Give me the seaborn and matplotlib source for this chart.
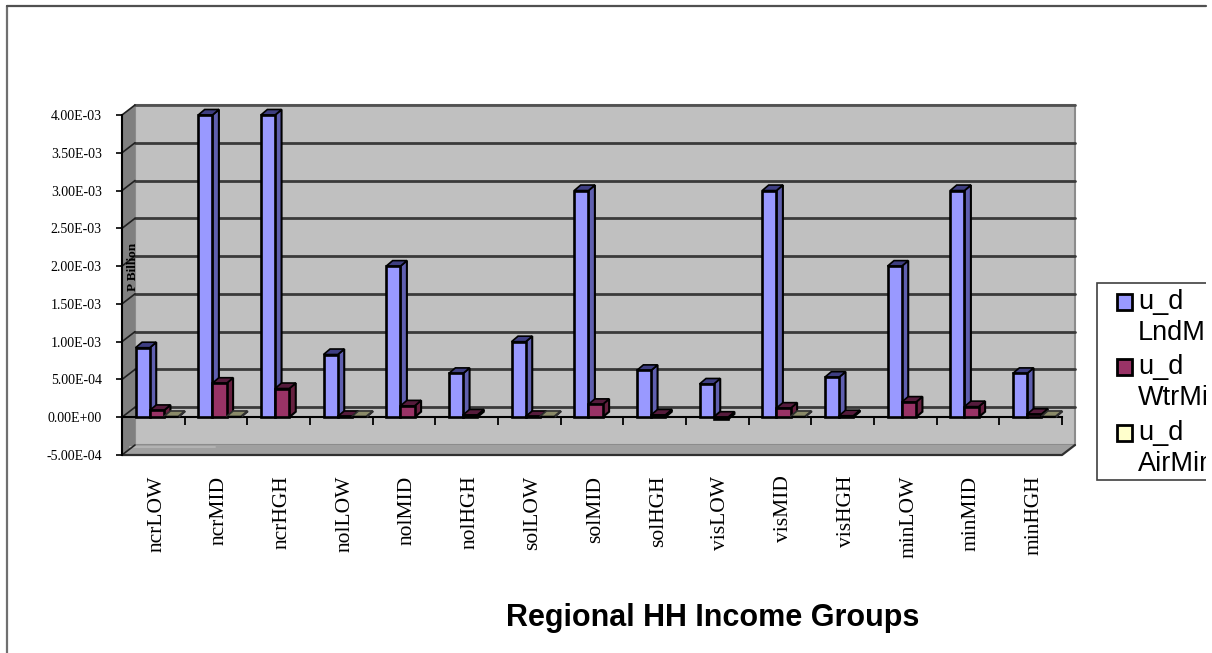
import numpy as np
import pandas as pd
import matplotlib
matplotlib.use('Agg')
import matplotlib.pyplot as plt
from matplotlib.patches import Polygon, Rectangle
from matplotlib.lines import Line2D
import seaborn as sns

sns.set_theme(style='white')

# chart data
groups = ['ncrLOW', 'ncrMID', 'ncrHGH', 'nolLOW', 'nolMID', 'nolHGH', 'solLOW', 'solMID',
          'solHGH', 'visLOW', 'visMID', 'visHGH', 'minLOW', 'minMID', 'minHGH']
lnd_min = [9.2e-4, 4.0e-3, 4.0e-3, 8.3e-4, 2.0e-3, 5.8e-4, 1.0e-3, 3.0e-3,
           6.2e-4, 4.4e-4, 3.0e-3, 5.3e-4, 2.0e-3, 3.0e-3, 5.8e-4]
wtr_min = [9e-5, 4.5e-4, 3.8e-4, 1e-5, 1.5e-4, 3e-5, 1e-5, 1.7e-4,
           3e-5, -3e-5, 1.2e-4, 2e-5, 2.0e-4, 1.4e-4, 4e-5]
air_min = [1e-5, 1e-5, np.nan, 1e-5, np.nan, np.nan, 1e-5, np.nan,
           np.nan, np.nan, 1e-5, np.nan, np.nan, np.nan, 1e-5]
series = ['u_d LndMin', 'u_d WtrMin', 'u_d AirMin']
y_ticks = [-5e-4, 0, 5e-4, 1e-3, 1.5e-3, 2e-3, 2.5e-3, 3e-3, 3.5e-3, 4e-3]
y_labels = ['-5.00E-04', '0.00E+00', '5.00E-04', '1.00E-03', '1.50E-03', '2.00E-03',
            '2.50E-03', '3.00E-03', '3.50E-03', '4.00E-03']

face_cols = ['#9999FF', '#993366', '#FFFFCC']
side_cols = ['#5F5FAF', '#66203F', '#8A8A68']
top_cols = ['#3E3E82', '#561B3C', '#8A8A68']
edge_cols = ['black', 'black', '#303030']

W, H = 1212, 653
fig = plt.figure(figsize=(W / 100, H / 100), dpi=100, facecolor='white')
ax = fig.add_axes([122 / W, (H - 455) / H, 940 / W, 340 / H])

df = pd.DataFrame({'group': groups * 3,
                   'series': np.repeat(series, 15),
                   'value': lnd_min + wtr_min + air_min})

sns.barplot(data=df, x='group', y='value', hue='series', palette=face_cols, saturation=1,
            width=0.68, gap=0, dodge=True, errorbar=None, legend=False,
            edgecolor='black', linewidth=1.9, ax=ax)

ax.set_xlim(-0.5, 14.5)
ax.set_ylim(-5e-4, 4e-3)
ax.patch.set_visible(False)
ax.set_axisbelow(False)

# px to data
px_x = 15 / 940
px_y = 4.5e-3 / 340
wall_dx, wall_dy = 13 * px_x, 10 * px_y
bar_dx, bar_dy = 6.5 * px_x, 5.5 * px_y
shift = 3.5 * px_x

x0, x1, y0, y1 = -0.5, 14.5, -5e-4, 4e-3

# fake 3d walls
ax.add_patch(Polygon([(x0 + wall_dx, y0 + wall_dy), (x1 + wall_dx, y0 + wall_dy),
                      (x1 + wall_dx, y1 + wall_dy), (x0 + wall_dx, y1 + wall_dy)],
                     fc='#C0C0C0', ec='#8C8C8C', lw=1.5, zorder=0.5, clip_on=False))
ax.add_patch(Polygon([(x0, y0), (x0 + wall_dx, y0 + wall_dy), (x0 + wall_dx, y1 + wall_dy), (x0, y1)],
                     fc='#808080', ec='none', zorder=0.6, clip_on=False))
ax.add_patch(Polygon([(x0, y0), (x1, y0), (x1 + wall_dx, y0 + wall_dy), (x0 + wall_dx, y0 + wall_dy)],
                     fc='#A0A0A0', ec='none', zorder=0.6, clip_on=False))
ax.plot([x0, x1, x1 + wall_dx], [y0, y0, y0 + wall_dy], color='#303030', lw=1.6, zorder=0.7, clip_on=False)
ax.plot([x0 + wall_dx, x1 + wall_dx], [y1 + wall_dy] * 2, color='#505050', lw=2, zorder=0.7, clip_on=False)
# the pale streak on the floor, bottom left
ax.plot([x0 + 8 * px_x, x0 + 93 * px_x], [y0 + 8 * px_y] * 2, color='#B4B4B4', lw=1.4, zorder=0.7, clip_on=False)

for v in y_ticks:
    if v < 4e-3 and v > -5e-4:
        ax.plot([x0 + wall_dx, x1 + wall_dx], [v + wall_dy, v + wall_dy],
                color='#3A3A3A', lw=2, zorder=1, clip_on=False)
    ax.plot([x0, x0 + wall_dx], [v, v + wall_dy], color='#202020', lw=1.2, zorder=1, clip_on=False)

# extrude the bars seaborn drew
for k, cont in enumerate(ax.containers):
    z = 3 + k
    for bar in cont:
        h = bar.get_height()
        if np.isnan(h):
            continue
        bar.set_x(bar.get_x() + shift)
        bar.set_zorder(z + 0.2)
        bar.set_clip_on(False)
        if k == 2:
            bar.set_linewidth(0.8)
        l, r = bar.get_x(), bar.get_x() + bar.get_width()
        t = max(h, 0)
        b = min(h, 0)
        ax.add_patch(Polygon([(r, b), (r, t), (r + bar_dx, t + bar_dy), (r + bar_dx, b + bar_dy)],
                             fc=side_cols[k], ec=edge_cols[k], lw=1.5, zorder=z, clip_on=False))
        ax.add_patch(Polygon([(l, t), (r, t), (r + bar_dx, t + bar_dy), (l + bar_dx, t + bar_dy)],
                             fc=top_cols[k], ec=edge_cols[k], lw=1.2, zorder=z + 0.1, clip_on=False))

# axes
for s in ['top', 'right']:
    ax.spines[s].set_visible(False)
ax.spines['bottom'].set_position(('data', 0))
ax.spines['bottom'].set_color('black')
ax.spines['bottom'].set_linewidth(1.5)
ax.spines['left'].set_color('black')
ax.spines['left'].set_linewidth(1.5)

ax.set_yticks(y_ticks)
ax.set_yticklabels(y_labels, family='Liberation Serif', fontsize=10, color='black')
ax.tick_params(axis='y', which='major', left=True, length=4, width=1.2, color='black', pad=10.5)

ax.set_xticks(np.arange(15) + shift)
ax.set_xticklabels(groups, family='Liberation Serif', fontsize=15.5, rotation=90, color='black')
ax.tick_params(axis='x', which='major', bottom=True, length=0, pad=42)
ax.set_xticks(np.arange(16) - 0.5, minor=True)
ax.tick_params(axis='x', which='minor', bottom=True, length=6, width=1.3, color='black')

ax.set_xlabel('Regional HH Income Groups', family='Liberation Sans', fontweight='bold',
              fontsize=22, color='black')
ax.xaxis.set_label_coords((713 - 122) / 940, (455 - 603) / 340)
ax.set_ylabel('P Billion', family='Liberation Serif', fontweight='bold', fontsize=9.5, color='black')
ax.yaxis.set_label_coords((139 - 122) / 940, (455 - 267) / 340)

# legend box, runs off the frame on the right
fig.add_artist(Rectangle((1097 / W, (H - 480) / H), 130 / W, 197 / H, transform=fig.transFigure,
                         fc='white', ec='#404040', lw=1.2))
leg_y = [302, 367, 433]
for name, col, yy in zip(series, face_cols, leg_y):
    fig.add_artist(Rectangle((1117 / W, (H - yy - 8) / H), 15 / W, 16 / H, transform=fig.transFigure,
                             fc=col, ec='black', lw=2))
    first, second = name.split(' ')
    fig.text(1138 / W, (H - yy) / H, first, family='Liberation Sans', fontsize=19.5, va='center',
             color='black')
    fig.text(1138 / W, (H - yy - 31) / H, second, family='Liberation Sans', fontsize=19.5, va='center',
             color='black')

# outer frame, cut at the right
fig.add_artist(Rectangle((1205.5 / W, 0), 6.5 / W, 1, transform=fig.transFigure, fc='white', ec='none', zorder=20))
fig.add_artist(Line2D([7 / W, 7 / W], [0, (H - 6) / H], color='#707070', lw=1.6, zorder=21))
fig.add_artist(Line2D([7 / W, 1205.5 / W], [(H - 6) / H] * 2, color='#505050', lw=1.6, zorder=21))

plt.savefig('out.png', dpi=100)
